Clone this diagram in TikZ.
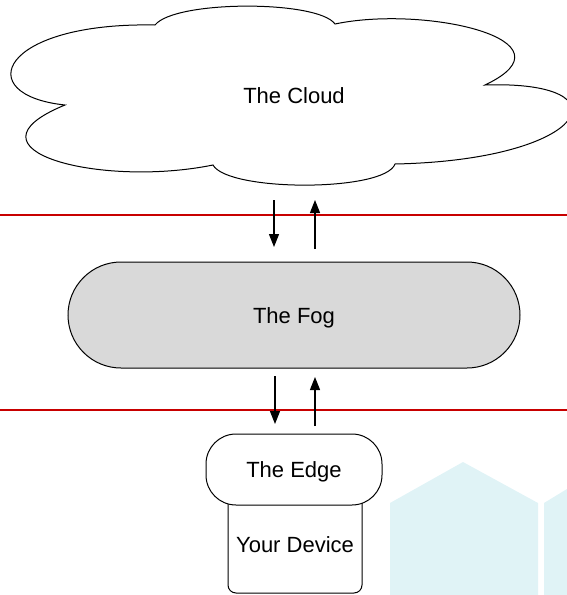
\documentclass[tikz,border=0pt]{standalone}
\usepackage{fontspec}
\setmainfont{Liberation Sans}
\usetikzlibrary{arrows.meta}
\definecolor{redline}{RGB}{200,0,0}
\definecolor{foggray}{RGB}{217,217,217}
\definecolor{wmark}{RGB}{224,243,246}
\tikzset{
  lbl/.style={font=\fontsize{22}{25}\selectfont, inner sep=0pt},
  conn/.style={line width=1.1pt, -{Triangle[length=13pt,width=10pt]}},
  sep/.style={redline, line width=2pt},
  shapeline/.style={draw=black, line width=1pt}
}
\begin{document}
\begin{tikzpicture}[x=1pt,y=-1pt]
\useasboundingbox (0,0) rectangle (567,595);
% watermark
\fill[wmark] (390,503) -- (463,462) -- (538,503) -- (538,600) -- (390,600) -- cycle;
\fill[wmark] (544,503) -- (567,489) -- (567,600) -- (544,600) -- cycle;
% separators
\draw[sep] (0,215) -- (567,215);
\draw[sep] (0,410) -- (567,410);
% cloud
\begin{scope}
\clip (0,0) rectangle (567,595);
\draw[shapeline, fill=white] (155,25)
  .. controls (175,0) and (318,0) .. (335,24)
  .. controls (425,5) and (580,40) .. (485,85)
  .. controls (630,80) and (590,160) .. (395,164)
  .. controls (385,192) and (228,192) .. (213,165)
  .. controls (100,188) and (-45,150) .. (65,105)
  .. controls (-30,95) and (0,22) .. (155,25) -- cycle;
\end{scope}
\node[lbl] (cloud) at (294,96) {The Cloud};
% fog
\draw[shapeline, fill=foggray, rounded corners=53pt] (68,262) rectangle (520,368);
\node[lbl] (fog) at (294,318) {The Fog};
% device
\draw[shapeline, rounded corners=8pt] (228,490) -- (228,593) -- (362,593) -- (362,490);
\node[lbl] (device) at (295,545) {Your Device};
% edge
\draw[shapeline, fill=white, rounded corners=30pt] (206,434) rectangle (382,505);
\node[lbl] (edge) at (294,472) {The Edge};
% arrows
\coordinate (c1s) at (274,200); \coordinate (c1e) at (274,247);
\coordinate (c2s) at (315,249); \coordinate (c2e) at (315,200);
\coordinate (f1s) at (275,376); \coordinate (f1e) at (275,424);
\coordinate (f2s) at (315,426); \coordinate (f2e) at (315,377);
\draw[conn] (c1s) -- (c1e);
\draw[conn] (c2s) -- (c2e);
\draw[conn] (f1s) -- (f1e);
\draw[conn] (f2s) -- (f2e);
\end{tikzpicture}
\end{document}
